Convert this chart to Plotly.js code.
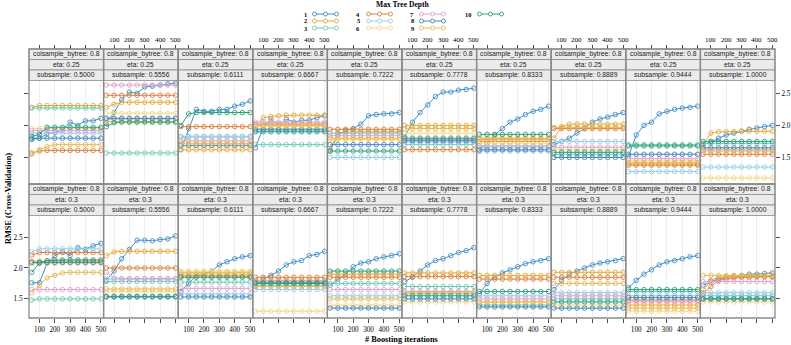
<!DOCTYPE html>
<html>
<head>
<meta charset="utf-8">
<script src="https://cdn.plot.ly/plotly-3.0.1.min.js"></script>
<style>html,body{margin:0;padding:0;background:#fff}#chart{width:791px;height:345px}</style>
</head>
<body>
<div id="chart"></div>
<script>
// Boosting iterations on the x axis, one series per max tree depth
const iterations = [50, 100, 150, 200, 250, 300, 350, 400, 450, 500];
const maxDepth = [1, 2, 3, 4, 5, 6, 7, 8, 9, 10];
const depthColors = ['#3f8fc6', '#e6a93a', '#72c9b6', '#dc7f3c', '#99cdeb',
                     '#f2d98a', '#e0a3cf', '#4585bd', '#e8b857', '#2f9f7b'];
const subsampleLabels = ['0.5000', '0.5556', '0.6111', '0.6667', '0.7222',
                         '0.7778', '0.8333', '0.8889', '0.9444', '1.0000'];
const etaLabels = ['0.25', '0.3'];
const colsampleLabel = '0.8';
const xTickVals = [100, 200, 300, 400, 500];
const yTickVals = [1.5, 2.0, 2.5];

// RMSE by depth (rows = depth 1..10), eta 0.25
const rmse_eta025_sub5000 = [
  [1.78,1.80,1.87,1.89,1.93,2.05,2.00,2.07,2.07,2.11],
  [2.28,2.31,2.31,2.31,2.31,2.31,2.31,2.31,2.31,2.31],
  [2.27,2.27,2.27,2.27,2.27,2.27,2.27,2.27,2.27,2.27],
  [1.57,1.60,1.61,1.61,1.61,1.61,1.61,1.61,1.61,1.61],
  [1.88,1.88,1.88,1.88,1.88,1.88,1.88,1.88,1.88,1.88],
  [1.95,1.95,1.95,1.95,1.95,1.95,1.95,1.95,1.95,1.95],
  [1.92,1.92,1.92,1.92,1.92,1.92,1.92,1.92,1.92,1.92],
  [1.80,1.80,1.80,1.80,1.80,1.80,1.80,1.80,1.80,1.80],
  [1.55,1.62,1.67,1.70,1.70,1.70,1.70,1.70,1.70,1.70],
  [1.83,1.86,1.97,1.97,1.97,1.97,1.97,1.97,1.97,1.97]
];
const rmse_eta025_sub5556 = [
  [2.03,2.20,2.40,2.52,2.50,2.60,2.61,2.63,2.65,2.66],
  [2.28,2.33,2.36,2.36,2.36,2.36,2.36,2.36,2.36,2.36],
  [1.57,1.57,1.57,1.57,1.57,1.57,1.57,1.57,1.57,1.57],
  [2.47,2.47,2.47,2.47,2.47,2.47,2.47,2.47,2.47,2.47],
  [2.10,2.10,2.10,2.10,2.10,2.10,2.10,2.10,2.10,2.10],
  [2.19,2.19,2.19,2.19,2.19,2.19,2.19,2.19,2.19,2.19],
  [2.63,2.63,2.63,2.63,2.63,2.63,2.63,2.63,2.63,2.63],
  [2.11,2.11,2.11,2.11,2.11,2.11,2.11,2.11,2.11,2.11],
  [2.06,2.06,2.06,2.06,2.06,2.06,2.06,2.06,2.06,2.06],
  [1.98,2.04,2.05,2.05,2.05,2.05,2.05,2.05,2.05,2.05]
];
const rmse_eta025_sub6111 = [
  [1.62,1.95,2.25,2.22,2.22,2.25,2.25,2.30,2.33,2.38],
  [1.62,1.62,1.62,1.62,1.62,1.62,1.62,1.62,1.62,1.62],
  [1.82,1.82,1.82,1.82,1.82,1.82,1.82,1.82,1.82,1.82],
  [1.98,1.98,1.98,1.98,1.98,1.98,1.98,1.98,1.98,1.98],
  [1.83,1.83,1.83,1.83,1.83,1.83,1.83,1.83,1.83,1.83],
  [1.66,1.66,1.66,1.66,1.66,1.66,1.66,1.66,1.66,1.66],
  [1.76,1.76,1.76,1.76,1.76,1.76,1.76,1.76,1.76,1.76],
  [1.69,1.69,1.69,1.69,1.69,1.69,1.69,1.69,1.69,1.69],
  [1.72,1.72,1.72,1.72,1.72,1.72,1.72,1.72,1.72,1.72],
  [2.00,2.18,2.20,2.20,2.20,2.20,2.20,2.20,2.20,2.20]
];
const rmse_eta025_sub6667 = [
  [1.65,1.98,2.10,2.00,2.10,2.05,2.08,2.08,2.12,2.15],
  [2.00,2.12,2.14,2.15,2.16,2.16,2.16,2.16,2.16,2.16],
  [1.70,1.70,1.70,1.70,1.70,1.70,1.70,1.70,1.70,1.70],
  [2.02,2.02,2.02,2.02,2.02,2.02,2.02,2.02,2.02,2.02],
  [1.95,1.95,1.95,1.95,1.95,1.95,1.95,1.95,1.95,1.95],
  [1.98,1.98,1.98,1.98,1.98,1.98,1.98,1.98,1.98,1.98],
  [2.05,2.05,2.05,2.05,2.05,2.05,2.05,2.05,2.05,2.05],
  [1.93,1.93,1.93,1.93,1.93,1.93,1.93,1.93,1.93,1.93],
  [2.00,2.00,2.00,2.00,2.00,2.00,2.00,2.00,2.00,2.00],
  [1.90,1.90,1.90,1.90,1.90,1.90,1.90,1.90,1.90,1.90]
];
const rmse_eta025_sub7222 = [
  [1.60,1.85,1.92,1.95,2.02,2.15,2.17,2.18,2.18,2.20],
  [1.62,1.88,1.90,1.90,1.90,1.90,1.90,1.90,1.90,1.90],
  [1.88,1.88,1.88,1.88,1.88,1.88,1.88,1.88,1.88,1.88],
  [1.94,1.94,1.94,1.94,1.94,1.94,1.94,1.94,1.94,1.94],
  [1.50,1.50,1.50,1.50,1.50,1.50,1.50,1.50,1.50,1.50],
  [1.78,1.78,1.78,1.78,1.78,1.78,1.78,1.78,1.78,1.78],
  [1.84,1.84,1.84,1.84,1.84,1.84,1.84,1.84,1.84,1.84],
  [1.70,1.70,1.70,1.70,1.70,1.70,1.70,1.70,1.70,1.70],
  [1.80,1.80,1.80,1.80,1.80,1.80,1.80,1.80,1.80,1.80],
  [1.60,1.60,1.60,1.60,1.60,1.60,1.60,1.60,1.60,1.60]
];
const rmse_eta025_sub7778 = [
  [1.82,2.05,2.20,2.32,2.45,2.52,2.52,2.55,2.56,2.58],
  [2.00,2.00,2.00,2.00,2.00,2.00,2.00,2.00,2.00,2.00],
  [1.70,1.70,1.70,1.70,1.70,1.70,1.70,1.70,1.70,1.70],
  [1.62,1.62,1.62,1.62,1.62,1.62,1.62,1.62,1.62,1.62],
  [1.74,1.74,1.74,1.74,1.74,1.74,1.74,1.74,1.74,1.74],
  [1.88,1.88,1.88,1.88,1.88,1.88,1.88,1.88,1.88,1.88],
  [1.78,1.78,1.78,1.78,1.78,1.78,1.78,1.78,1.78,1.78],
  [1.76,1.76,1.76,1.76,1.76,1.76,1.76,1.76,1.76,1.76],
  [1.95,1.95,1.95,1.95,1.95,1.95,1.95,1.95,1.95,1.95],
  [1.80,1.80,1.80,1.80,1.80,1.80,1.80,1.80,1.80,1.80]
];
const rmse_eta025_sub8333 = [
  [1.60,1.72,1.85,1.95,2.05,2.10,2.17,2.22,2.25,2.30],
  [1.80,1.80,1.80,1.80,1.80,1.80,1.80,1.80,1.80,1.80],
  [1.68,1.68,1.68,1.68,1.68,1.68,1.68,1.68,1.68,1.68],
  [1.75,1.75,1.75,1.75,1.75,1.75,1.75,1.75,1.75,1.75],
  [1.60,1.60,1.60,1.60,1.60,1.60,1.60,1.60,1.60,1.60],
  [1.72,1.72,1.72,1.72,1.72,1.72,1.72,1.72,1.72,1.72],
  [1.66,1.66,1.66,1.66,1.66,1.66,1.66,1.66,1.66,1.66],
  [1.62,1.62,1.62,1.62,1.62,1.62,1.62,1.62,1.62,1.62],
  [1.78,1.78,1.78,1.78,1.78,1.78,1.78,1.78,1.78,1.78],
  [1.86,1.86,1.86,1.86,1.86,1.86,1.86,1.86,1.86,1.86]
];
const rmse_eta025_sub8889 = [
  [1.70,1.75,1.80,1.88,1.95,2.05,2.10,2.13,2.17,2.20],
  [1.80,1.98,2.02,2.02,2.02,2.02,2.02,2.02,2.02,2.02],
  [1.55,1.55,1.55,1.55,1.55,1.55,1.55,1.55,1.55,1.55],
  [1.95,1.95,1.95,1.95,1.95,1.95,1.95,1.95,1.95,1.95],
  [1.75,1.75,1.75,1.75,1.75,1.75,1.75,1.75,1.75,1.75],
  [1.62,1.62,1.62,1.62,1.62,1.62,1.62,1.62,1.62,1.62],
  [1.66,1.66,1.66,1.66,1.66,1.66,1.66,1.66,1.66,1.66],
  [1.50,1.50,1.50,1.50,1.50,1.50,1.50,1.50,1.50,1.50],
  [1.97,1.97,1.97,1.97,1.97,1.97,1.97,1.97,1.97,1.97],
  [1.58,1.58,1.58,1.58,1.58,1.58,1.58,1.58,1.58,1.58]
];
const rmse_eta025_sub9444 = [
  [1.52,1.85,2.00,2.05,2.18,2.22,2.25,2.27,2.28,2.30],
  [1.40,1.40,1.40,1.40,1.40,1.40,1.40,1.40,1.40,1.40],
  [1.70,1.70,1.70,1.70,1.70,1.70,1.70,1.70,1.70,1.70],
  [1.38,1.38,1.38,1.38,1.38,1.38,1.38,1.38,1.38,1.38],
  [1.28,1.28,1.28,1.28,1.28,1.28,1.28,1.28,1.28,1.28],
  [1.45,1.45,1.45,1.45,1.45,1.45,1.45,1.45,1.45,1.45],
  [1.48,1.48,1.48,1.48,1.48,1.48,1.48,1.48,1.48,1.48],
  [1.55,1.55,1.55,1.55,1.55,1.55,1.55,1.55,1.55,1.55],
  [1.42,1.42,1.42,1.42,1.42,1.42,1.42,1.42,1.42,1.42],
  [1.68,1.68,1.68,1.68,1.68,1.68,1.68,1.68,1.68,1.68]
];
const rmse_eta025_sub10000 = [
  [1.70,1.74,1.80,1.85,1.88,1.91,1.94,1.96,1.98,2.00],
  [1.70,1.88,1.90,1.90,1.90,1.91,1.91,1.91,1.91,1.91],
  [1.72,1.72,1.72,1.72,1.72,1.72,1.72,1.72,1.72,1.72],
  [1.55,1.55,1.55,1.55,1.55,1.55,1.55,1.55,1.55,1.55],
  [1.35,1.35,1.35,1.35,1.35,1.35,1.35,1.35,1.35,1.35],
  [1.18,1.18,1.18,1.18,1.18,1.18,1.18,1.18,1.18,1.18],
  [1.62,1.62,1.62,1.62,1.62,1.62,1.62,1.62,1.62,1.62],
  [1.65,1.65,1.65,1.65,1.65,1.65,1.65,1.65,1.65,1.65],
  [1.60,1.60,1.60,1.60,1.60,1.60,1.60,1.60,1.60,1.60],
  [1.75,1.75,1.75,1.75,1.75,1.75,1.75,1.75,1.75,1.75]
];

// RMSE by depth (rows = depth 1..10), eta 0.3
const rmse_eta03_sub5000 = [
  [1.76,1.76,2.08,2.20,2.26,2.20,2.33,2.30,2.36,2.40],
  [2.11,2.11,2.11,2.11,2.11,2.11,2.11,2.11,2.11,2.11],
  [1.48,1.50,1.50,1.50,1.50,1.50,1.50,1.50,1.50,1.50],
  [2.21,2.25,2.25,2.25,2.25,2.25,2.25,2.25,2.25,2.25],
  [2.26,2.31,2.31,2.31,2.31,2.31,2.31,2.31,2.31,2.31],
  [2.07,2.07,2.07,2.07,2.07,2.07,2.07,2.07,2.07,2.07],
  [1.65,1.65,1.65,1.65,1.65,1.65,1.65,1.65,1.65,1.65],
  [2.09,2.09,2.09,2.09,2.09,2.09,2.09,2.09,2.09,2.09],
  [1.60,1.72,1.84,1.88,1.92,1.93,1.93,1.93,1.93,1.93],
  [1.93,2.08,2.12,2.13,2.13,2.13,2.13,2.13,2.13,2.13]
];
const rmse_eta03_sub5556 = [
  [1.80,1.95,2.15,2.30,2.45,2.45,2.44,2.46,2.47,2.52],
  [2.20,2.26,2.27,2.27,2.27,2.27,2.27,2.27,2.27,2.27],
  [1.78,1.78,1.78,1.78,1.78,1.78,1.78,1.78,1.78,1.78],
  [2.00,2.00,2.00,2.00,2.00,2.00,2.00,2.00,2.00,2.00],
  [1.82,1.82,1.82,1.82,1.82,1.82,1.82,1.82,1.82,1.82],
  [1.62,1.62,1.62,1.62,1.62,1.62,1.62,1.62,1.62,1.62],
  [1.93,1.84,1.83,1.83,1.83,1.83,1.83,1.83,1.83,1.83],
  [1.54,1.54,1.54,1.54,1.54,1.54,1.54,1.54,1.54,1.54],
  [1.66,1.66,1.66,1.66,1.66,1.66,1.66,1.66,1.66,1.66],
  [1.53,1.53,1.53,1.53,1.53,1.53,1.53,1.53,1.53,1.53]
];
const rmse_eta03_sub6111 = [
  [1.62,1.75,1.88,1.90,1.95,2.05,2.10,2.15,2.18,2.20],
  [1.93,1.93,1.93,1.93,1.93,1.93,1.93,1.93,1.93,1.93],
  [1.77,1.77,1.77,1.77,1.77,1.77,1.77,1.77,1.77,1.77],
  [1.87,1.87,1.87,1.87,1.87,1.87,1.87,1.87,1.87,1.87],
  [1.58,1.58,1.58,1.58,1.58,1.58,1.58,1.58,1.58,1.58],
  [1.95,1.95,1.95,1.95,1.95,1.95,1.95,1.95,1.95,1.95],
  [1.67,1.67,1.67,1.67,1.67,1.67,1.67,1.67,1.67,1.67],
  [1.53,1.53,1.53,1.53,1.53,1.53,1.53,1.53,1.53,1.53],
  [1.90,1.90,1.90,1.90,1.90,1.90,1.90,1.90,1.90,1.90],
  [1.85,1.85,1.85,1.85,1.85,1.85,1.85,1.85,1.85,1.85]
];
const rmse_eta03_sub6667 = [
  [1.70,1.82,1.88,1.95,2.05,2.10,2.12,2.20,2.22,2.27],
  [1.80,1.80,1.80,1.80,1.80,1.80,1.80,1.80,1.80,1.80],
  [1.72,1.72,1.72,1.72,1.72,1.72,1.72,1.72,1.72,1.72],
  [1.85,1.85,1.85,1.85,1.85,1.85,1.85,1.85,1.85,1.85],
  [1.65,1.65,1.65,1.65,1.65,1.65,1.65,1.65,1.65,1.65],
  [1.30,1.30,1.30,1.30,1.30,1.30,1.30,1.30,1.30,1.30],
  [1.78,1.78,1.78,1.78,1.78,1.78,1.78,1.78,1.78,1.78],
  [1.75,1.75,1.75,1.75,1.75,1.75,1.75,1.75,1.75,1.75],
  [1.70,1.70,1.70,1.70,1.70,1.70,1.70,1.70,1.70,1.70],
  [1.76,1.76,1.76,1.76,1.76,1.76,1.76,1.76,1.76,1.76]
];
const rmse_eta03_sub7222 = [
  [1.72,1.82,1.90,2.02,2.08,2.10,2.15,2.18,2.20,2.23],
  [1.90,1.90,1.90,1.90,1.90,1.90,1.90,1.90,1.90,1.90],
  [1.75,1.75,1.75,1.75,1.75,1.75,1.75,1.75,1.75,1.75],
  [1.85,1.85,1.85,1.85,1.85,1.85,1.85,1.85,1.85,1.85],
  [1.55,1.55,1.55,1.55,1.55,1.55,1.55,1.55,1.55,1.55],
  [1.40,1.40,1.40,1.40,1.40,1.40,1.40,1.40,1.40,1.40],
  [1.65,1.65,1.65,1.65,1.65,1.65,1.65,1.65,1.65,1.65],
  [1.35,1.35,1.35,1.35,1.35,1.35,1.35,1.35,1.35,1.35],
  [1.50,1.50,1.50,1.50,1.50,1.50,1.50,1.50,1.50,1.50],
  [1.95,1.95,1.95,1.95,1.95,1.95,1.95,1.95,1.95,1.95]
];
const rmse_eta03_sub7778 = [
  [1.78,1.85,1.95,2.05,2.12,2.15,2.20,2.25,2.28,2.33],
  [1.92,1.92,1.92,1.92,1.92,1.92,1.92,1.92,1.92,1.92],
  [1.70,1.70,1.70,1.70,1.70,1.70,1.70,1.70,1.70,1.70],
  [1.86,1.86,1.86,1.86,1.86,1.86,1.86,1.86,1.86,1.86],
  [1.58,1.58,1.58,1.58,1.58,1.58,1.58,1.58,1.58,1.58],
  [1.45,1.45,1.45,1.45,1.45,1.45,1.45,1.45,1.45,1.45],
  [1.62,1.62,1.62,1.62,1.62,1.62,1.62,1.62,1.62,1.62],
  [1.50,1.50,1.50,1.50,1.50,1.50,1.50,1.50,1.50,1.50],
  [1.60,1.60,1.60,1.60,1.60,1.60,1.60,1.60,1.60,1.60],
  [1.55,1.55,1.55,1.55,1.55,1.55,1.55,1.55,1.55,1.55]
];
const rmse_eta03_sub8333 = [
  [1.58,1.75,1.85,1.92,1.97,2.02,2.07,2.10,2.12,2.15],
  [1.88,1.88,1.88,1.88,1.88,1.88,1.88,1.88,1.88,1.88],
  [1.40,1.40,1.40,1.40,1.40,1.40,1.40,1.40,1.40,1.40],
  [1.82,1.82,1.82,1.82,1.82,1.82,1.82,1.82,1.82,1.82],
  [1.55,1.55,1.55,1.55,1.55,1.55,1.55,1.55,1.55,1.55],
  [1.45,1.45,1.45,1.45,1.45,1.45,1.45,1.45,1.45,1.45],
  [1.50,1.50,1.50,1.50,1.50,1.50,1.50,1.50,1.50,1.50],
  [1.37,1.37,1.37,1.37,1.37,1.37,1.37,1.37,1.37,1.37],
  [1.45,1.45,1.45,1.45,1.45,1.45,1.45,1.45,1.45,1.45],
  [1.62,1.62,1.62,1.62,1.62,1.62,1.62,1.62,1.62,1.62]
];
const rmse_eta03_sub8889 = [
  [1.65,1.80,1.90,1.95,2.00,2.05,2.08,2.10,2.12,2.15],
  [1.93,1.93,1.93,1.93,1.93,1.93,1.93,1.93,1.93,1.93],
  [1.50,1.50,1.50,1.50,1.50,1.50,1.50,1.50,1.50,1.50],
  [1.85,1.85,1.85,1.85,1.85,1.85,1.85,1.85,1.85,1.85],
  [1.60,1.60,1.60,1.60,1.60,1.60,1.60,1.60,1.60,1.60],
  [1.40,1.40,1.40,1.40,1.40,1.40,1.40,1.40,1.40,1.40],
  [1.55,1.55,1.55,1.55,1.55,1.55,1.55,1.55,1.55,1.55],
  [1.35,1.35,1.35,1.35,1.35,1.35,1.35,1.35,1.35,1.35],
  [1.75,1.75,1.75,1.75,1.75,1.75,1.75,1.75,1.75,1.75],
  [1.45,1.45,1.45,1.45,1.45,1.45,1.45,1.45,1.45,1.45]
];
const rmse_eta03_sub9444 = [
  [1.68,1.80,1.90,1.97,2.05,2.10,2.12,2.15,2.18,2.20],
  [1.40,1.40,1.40,1.40,1.40,1.40,1.40,1.40,1.40,1.40],
  [1.62,1.62,1.62,1.62,1.62,1.62,1.62,1.62,1.62,1.62],
  [1.48,1.48,1.48,1.48,1.48,1.48,1.48,1.48,1.48,1.48],
  [1.55,1.55,1.55,1.55,1.55,1.55,1.55,1.55,1.55,1.55],
  [1.30,1.30,1.30,1.30,1.30,1.30,1.30,1.30,1.30,1.30],
  [1.45,1.45,1.45,1.45,1.45,1.45,1.45,1.45,1.45,1.45],
  [1.52,1.52,1.52,1.52,1.52,1.52,1.52,1.52,1.52,1.52],
  [1.35,1.35,1.35,1.35,1.35,1.35,1.35,1.35,1.35,1.35],
  [1.65,1.65,1.65,1.65,1.65,1.65,1.65,1.65,1.65,1.65]
];
const rmse_eta03_sub10000 = [
  [1.72,1.78,1.82,1.85,1.87,1.88,1.90,1.90,1.91,1.92],
  [1.65,1.80,1.85,1.86,1.86,1.86,1.86,1.86,1.86,1.86],
  [1.55,1.55,1.55,1.55,1.55,1.55,1.55,1.55,1.55,1.55],
  [1.58,1.70,1.80,1.82,1.84,1.85,1.85,1.86,1.86,1.86],
  [1.60,1.60,1.60,1.60,1.60,1.60,1.60,1.60,1.60,1.60],
  [1.45,1.45,1.45,1.45,1.45,1.45,1.45,1.45,1.45,1.45],
  [1.78,1.78,1.78,1.78,1.78,1.78,1.78,1.78,1.78,1.78],
  [1.50,1.50,1.50,1.50,1.50,1.50,1.50,1.50,1.50,1.50],
  [1.88,1.88,1.88,1.88,1.88,1.88,1.88,1.88,1.88,1.88],
  [1.50,1.50,1.50,1.50,1.50,1.50,1.50,1.50,1.50,1.50]
];

const panelsEta025 = [rmse_eta025_sub5000, rmse_eta025_sub5556, rmse_eta025_sub6111,
  rmse_eta025_sub6667, rmse_eta025_sub7222, rmse_eta025_sub7778, rmse_eta025_sub8333,
  rmse_eta025_sub8889, rmse_eta025_sub9444, rmse_eta025_sub10000];
const panelsEta03 = [rmse_eta03_sub5000, rmse_eta03_sub5556, rmse_eta03_sub6111,
  rmse_eta03_sub6667, rmse_eta03_sub7222, rmse_eta03_sub7778, rmse_eta03_sub8333,
  rmse_eta03_sub8889, rmse_eta03_sub9444, rmse_eta03_sub10000];

// ---- page geometry in pixels ----
const W = 791, H = 345;
const fx = p => p / W;
const fy = p => 1 - p / H;
const colLeft = 29, colWidth = 74.6;
const stripH = 10.5;
const rowsGeom = [
  { stripTop: 49,    plotTop: 80.5, plotBot: 184, eta: etaLabels[0], panels: panelsEta025, yRange: [1.086, 2.70] },
  { stripTop: 184,   plotTop: 215.5, plotBot: 318, eta: etaLabels[1], panels: panelsEta03, yRange: [1.19, 2.85] }
];
const xRange = [32, 518];

const serif = 'Liberation Serif, Times New Roman, serif';
const sans = 'Liberation Sans, Arial, sans-serif';
const ink = '#000000';
const frameColor = '#8a8a8a';
const stripFill = '#ebebeb';
const makeTickFont = () => ({ family: serif, size: 7.2, color: ink });

const traces = [];
const layout = {
  width: W, height: H,
  margin: { l: 0, r: 0, t: 0, b: 0 },
  paper_bgcolor: '#ffffff', plot_bgcolor: '#ffffff',
  font: { family: serif, color: ink },
  showlegend: false,
  shapes: [], annotations: []
};

// x position (px) of a value on a panel's x scale, for the top tick labels
const xToPx = (L, v) => L + (v - xRange[0]) / (xRange[1] - xRange[0]) * colWidth;

rowsGeom.forEach((row, r) => {
  for (let c = 0; c < 10; c++) {
    const n = r * 10 + c + 1;
    const L = colLeft + c * colWidth, R = L + colWidth;

    const xAxis = {
      domain: [fx(L), fx(R)], range: xRange.slice(),
      color: ink,
      tickmode: 'array', tickvals: xTickVals.slice(), ticktext: xTickVals.map(String),
      showgrid: true, gridcolor: '#e9e9e9', gridwidth: 0.8,
      zeroline: false, showline: false,
      ticks: 'outside', ticklen: 4, tickwidth: 0.8, tickcolor: '#222222',
      tickfont: makeTickFont(),
      fixedrange: true
    };
    if (r === 0) {
      // ticks sit above the strips; alternate panels carry the labels
      Object.assign(xAxis, { side: 'top', anchor: 'free', position: fy(row.stripTop),
        showticklabels: false });
      if (c % 2 === 1) {
        xTickVals.forEach(v => {
          layout.annotations.push({ xref: 'paper', yref: 'paper', x: fx(xToPx(L, v)), y: fy(40),
            text: String(v), showarrow: false, xanchor: 'center', yanchor: 'middle',
            font: { family: serif, size: 7, color: '#000000' } });
        });
      }
    } else {
      Object.assign(xAxis, { side: 'bottom', anchor: 'y' + n, showticklabels: c % 2 === 0 });
    }
    layout['xaxis' + n] = xAxis;

    const yAxis = {
      domain: [fy(row.plotBot), fy(row.plotTop)], range: row.yRange.slice(),
      color: ink,
      tickmode: 'array', tickvals: yTickVals.slice(), ticktext: ['1.5', '2.0', '2.5'],
      showgrid: false, zeroline: false, showline: false,
      anchor: 'x' + n,
      ticks: '', showticklabels: false,
      tickfont: makeTickFont(),
      fixedrange: true
    };
    if (c === 0) Object.assign(yAxis, { side: 'left', ticks: 'outside', ticklen: 4, tickwidth: 0.8, tickcolor: '#222222', showticklabels: r === 1 });
    if (c === 9) Object.assign(yAxis, { side: 'right', ticks: 'outside', ticklen: 4, tickwidth: 0.8, tickcolor: '#222222', showticklabels: r === 0 });
    layout['yaxis' + n] = yAxis;

    // one line per tree depth
    row.panels[c].forEach((vals, d) => {
      traces.push({
        type: 'scatter', mode: 'lines+markers',
        x: iterations, y: vals,
        xaxis: 'x' + n, yaxis: 'y' + n,
        name: String(maxDepth[d]),
        line: { color: depthColors[d], width: 1 },
        marker: { symbol: 'circle-open', size: 4.5, color: depthColors[d], line: { width: 0.9 } },
        hoverinfo: 'skip', cliponaxis: true
      });
    });

    // strips
    const stripTexts = ['colsample_bytree: ' + colsampleLabel, 'eta: ' + row.eta,
                        'subsample: ' + subsampleLabels[c]];
    stripTexts.forEach((t, k) => {
      const t0 = row.stripTop + k * stripH, t1 = t0 + stripH;
      layout.shapes.push({ type: 'rect', xref: 'paper', yref: 'paper',
        x0: fx(L), x1: fx(R), y0: fy(t1), y1: fy(t0),
        fillcolor: stripFill, line: { color: frameColor, width: 0.8 }, layer: 'below' });
      layout.annotations.push({ xref: 'paper', yref: 'paper', x: fx((L + R) / 2), y: fy((t0 + t1) / 2),
        text: t, showarrow: false, xanchor: 'center', yanchor: 'middle',
        font: { family: sans, size: 6.8, color: '#222222' } });
    });
    // panel frame
    layout.shapes.push({ type: 'rect', xref: 'paper', yref: 'paper',
      x0: fx(L), x1: fx(R), y0: fy(row.plotBot), y1: fy(row.stripTop),
      line: { color: frameColor, width: 1.3 }, fillcolor: 'rgba(0,0,0,0)', layer: 'above' });
  }
});

// axis titles
layout.annotations.push({ xref: 'paper', yref: 'paper', x: fx(402), y: fy(339),
  xanchor: 'center', yanchor: 'middle',
  text: '<b># Boosting iterations</b>', showarrow: false,
  font: { family: serif, size: 8.3, color: ink } });
layout.annotations.push({ xref: 'paper', yref: 'paper', x: fx(8), y: fy(199),
  xanchor: 'center', yanchor: 'middle',
  text: '<b>RMSE (Cross-Validation)</b>', showarrow: false, textangle: -90,
  font: { family: serif, size: 8.3, color: ink } });

// key: Max Tree Depth
layout.annotations.push({ xref: 'paper', yref: 'paper', x: fx(403), y: fy(4.5),
  xanchor: 'center', yanchor: 'middle',
  text: '<b>Max Tree Depth</b>', showarrow: false,
  font: { family: serif, size: 7.6, color: ink } });
const keyCols = [{ lab: 305, x0: 313 }, { lab: 358, x0: 367 }, { lab: 412, x0: 420 }, { lab: 468, x0: 478 }];
const keyRows = [14, 21, 28];
maxDepth.forEach((dep, d) => {
  const kc = keyCols[Math.floor(d / 3)], ky = keyRows[d % 3];
  layout.annotations.push({ xref: 'paper', yref: 'paper', x: fx(kc.lab), y: fy(ky),
    text: '<b>' + dep + '</b>', showarrow: false, xanchor: 'center', yanchor: 'middle',
    font: { family: serif, size: 6.4, color: ink } });
  const x1 = kc.x0 + 25;
  layout.shapes.push({ type: 'line', xref: 'paper', yref: 'paper',
    x0: fx(kc.x0), x1: fx(x1), y0: fy(ky), y1: fy(ky),
    line: { color: depthColors[d], width: 1 } });
  [kc.x0 + 1.5, kc.x0 + 12.5, kc.x0 + 23.5].forEach(cx => {
    layout.shapes.push({ type: 'circle', xref: 'paper', yref: 'paper',
      x0: fx(cx - 2), x1: fx(cx + 2), y0: fy(ky + 2), y1: fy(ky - 2),
      fillcolor: '#ffffff', line: { color: depthColors[d], width: 0.9 } });
  });
});

Plotly.newPlot('chart', traces, layout, { staticPlot: true, displayModeBar: false });
</script>
</body>
</html>
